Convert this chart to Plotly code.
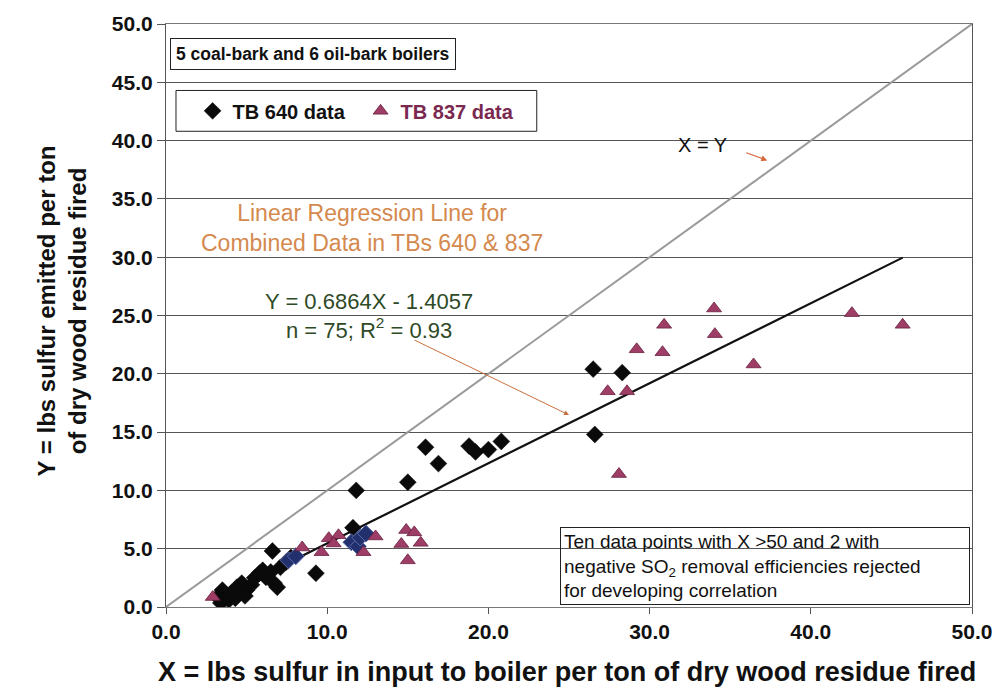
import plotly.graph_objects as go

# TB 640 data (lbs S input vs lbs S emitted per ton dry wood residue)
tb640_x = [3.2, 3.5, 3.75, 4.05, 4.4, 4.7, 5.0, 5.3, 5.5, 5.8, 6.0, 6.2, 6.5, 6.7, 6.9,
           7.1, 7.45, 7.75, 3.4, 3.9, 4.3, 4.9, 6.6, 9.3, 11.6, 11.8,
           15.0, 16.1, 16.9, 18.8, 19.2, 20.0, 20.8, 26.5, 26.6, 28.3]
tb640_y = [0.85, 1.45, 0.8, 1.2, 1.7, 2.05, 1.45, 1.9, 2.5, 2.9, 3.15, 2.55, 3.0, 2.05, 1.7,
           3.4, 3.85, 4.25, 0.35, 0.6, 0.75, 0.95, 4.8, 2.9, 6.8, 10.0,
           10.7, 13.7, 12.3, 13.8, 13.3, 13.5, 14.2, 20.4, 14.8, 20.1]

# TB 640 points highlighted in the overlap region
tb640b_x = [7.6, 8.05, 11.5, 11.9, 12.05, 12.4]
tb640b_y = [4.0, 4.35, 5.55, 5.2, 5.95, 6.3]

# TB 837 data
tb837_x = [2.9, 8.45, 9.65, 10.1, 10.7, 10.4, 12.25, 13.0, 14.9, 15.4, 14.6, 15.8, 15.0,
           27.4, 28.6, 28.1, 29.2, 30.8, 30.9, 34.0, 34.05, 36.45, 42.55, 45.7]
tb837_y = [0.85, 5.1, 4.7, 5.9, 6.15, 5.45, 4.7, 6.05, 6.6, 6.4, 5.4, 5.5, 4.0,
           18.5, 18.5, 11.4, 22.1, 21.85, 24.2, 25.6, 23.4, 20.8, 25.2, 24.2]

# Regression on combined data: Y = slope*X + intercept
slope = 0.6864
intercept = -1.4057
fit_x = [3.0, 45.7]
fit_y = [slope * v + intercept for v in fit_x]

# 1:1 reference line
xy_line = [0.0, 50.0]

FONT = "Liberation Sans, Arial, sans-serif"
MAROON = "#9e3d66"
NAVY = "#22306e"

fig = go.Figure()
fig.add_trace(go.Scatter(x=xy_line, y=xy_line, mode="lines",
                         line=dict(color="#9a9a9a", width=2), showlegend=False,
                         hoverinfo="skip"))
fig.add_trace(go.Scatter(x=fit_x, y=fit_y, mode="lines",
                         line=dict(color="#111111", width=2.2), showlegend=False,
                         hoverinfo="skip"))
fig.add_trace(go.Scatter(x=tb640_x, y=tb640_y, mode="markers", name="<b>TB 640 data</b>",
                         marker=dict(symbol="diamond", size=13, color="#0a0a0a",
                                     line=dict(color="#0a0a0a", width=0.5))))
fig.add_trace(go.Scatter(x=tb640b_x, y=tb640b_y, mode="markers", showlegend=False,
                         marker=dict(symbol="diamond", size=13, color=NAVY,
                                     line=dict(color="#5a6aa8", width=1))))
fig.add_trace(go.Scatter(x=tb837_x, y=tb837_y, mode="markers",
                         name="<b><span style='color:#7a2850'>TB 837 data</span></b>",
                         marker=dict(symbol="triangle-up", size=13, color=MAROON,
                                     line=dict(color="#6a1f40", width=0.8))))

annotations = [
    dict(x=9.11, y=47.44, xref="x", yref="y", showarrow=False,
         text="<b>5 coal-bark and 6 oil-bark boilers</b>",
         font=dict(family=FONT, size=17.5, color="#111111"),
         bordercolor="#222222", borderwidth=1, borderpad=5, bgcolor="white"),
    dict(x=33.3, y=39.6, xref="x", yref="y", showarrow=False, text="X = Y",
         font=dict(family=FONT, size=20, color="#111111")),
    dict(x=37.3, y=38.3, ax=35.9, ay=39.0, xref="x", yref="y", axref="x", ayref="y",
         text="", showarrow=True, arrowhead=2, arrowsize=1, arrowwidth=1.2,
         arrowcolor="#d8663a"),
    dict(x=12.8, y=32.5, xref="x", yref="y", showarrow=False,
         text="Linear Regression Line for<br>Combined Data in TBs 640 &amp; 837",
         font=dict(family=FONT, size=23, color="#d4894e")),
    dict(x=12.6, y=25.0, xref="x", yref="y", showarrow=False,
         text="Y = 0.6864X - 1.4057<br>n = 75; R<sup>2</sup> = 0.93",
         font=dict(family=FONT, size=22, color="#2e4a26")),
    dict(x=25.0, y=16.47, ax=15.33, ay=22.95, xref="x", yref="y", axref="x", ayref="y",
         text="", showarrow=True, arrowhead=2, arrowsize=1, arrowwidth=1,
         arrowcolor="#c8703e"),
    dict(x=24.45, y=6.9, xref="x", yref="y", xanchor="left", yanchor="top",
         showarrow=False, align="left",
         text="Ten data points with X &gt;50 and 2 with<br>"
              "negative SO<sub>2</sub> removal efficiencies rejected<br>"
              "for developing correlation",
         font=dict(family=FONT, size=19, color="#111111"),
         bordercolor="#222222", borderwidth=1, borderpad=3,
         bgcolor="rgba(255,255,255,0)", width=402),
    dict(x=0.4975, y=-0.111, xref="paper", yref="paper", xanchor="center",
         yanchor="middle", showarrow=False,
         text="<b>X = lbs sulfur in input to boiler per ton of dry wood residue fired</b>",
         font=dict(family=FONT, size=27, color="#111111")),
    dict(x=-0.129, y=0.507, xref="paper", yref="paper", xanchor="center",
         yanchor="middle", showarrow=False, textangle=-90,
         text="<b>Y = lbs sulfur emitted per ton<br>of dry wood residue fired</b>",
         font=dict(family=FONT, size=24, color="#111111")),
]

shapes = [
    dict(type="rect", xref="x", yref="y", x0=0.62, x1=23.0, y0=40.8, y1=44.3,
         line=dict(color="#222222", width=1), fillcolor="white", layer="above"),
]

fig.update_layout(
    width=1004, height=691,
    margin=dict(l=166, r=26, t=21, b=84),
    paper_bgcolor="white", plot_bgcolor="white",
    font=dict(family=FONT, color="#111111"),
    showlegend=True,
    legend=dict(orientation="h", x=0.033, y=0.851, xanchor="left", yanchor="middle",
                bgcolor="rgba(0,0,0,0)", borderwidth=0,
                font=dict(family=FONT, size=20, color="#111111"),
                itemwidth=30, entrywidth=123, tracegroupgap=0),
    annotations=annotations,
    shapes=shapes,
    xaxis=dict(range=[0, 50], dtick=10, tick0=0, tickformat=".1f", showgrid=False,
               zeroline=False, showline=True, linecolor="#777777", linewidth=1.2,
               mirror=True, ticks="outside", ticklen=6, tickcolor="#555555",
               tickfont=dict(family=FONT, size=21, color="#111111", weight="bold")),
    yaxis=dict(range=[0, 50], dtick=5, tick0=0, tickformat=".1f", showgrid=True,
               gridcolor="#555555", gridwidth=1.3, zeroline=False, showline=True,
               linecolor="#555555", linewidth=1.2, mirror=True, ticks="outside",
               ticklen=8, tickcolor="#555555",
               tickfont=dict(family=FONT, size=21, color="#111111", weight="bold")),
)

fig.write_html("out.html")
